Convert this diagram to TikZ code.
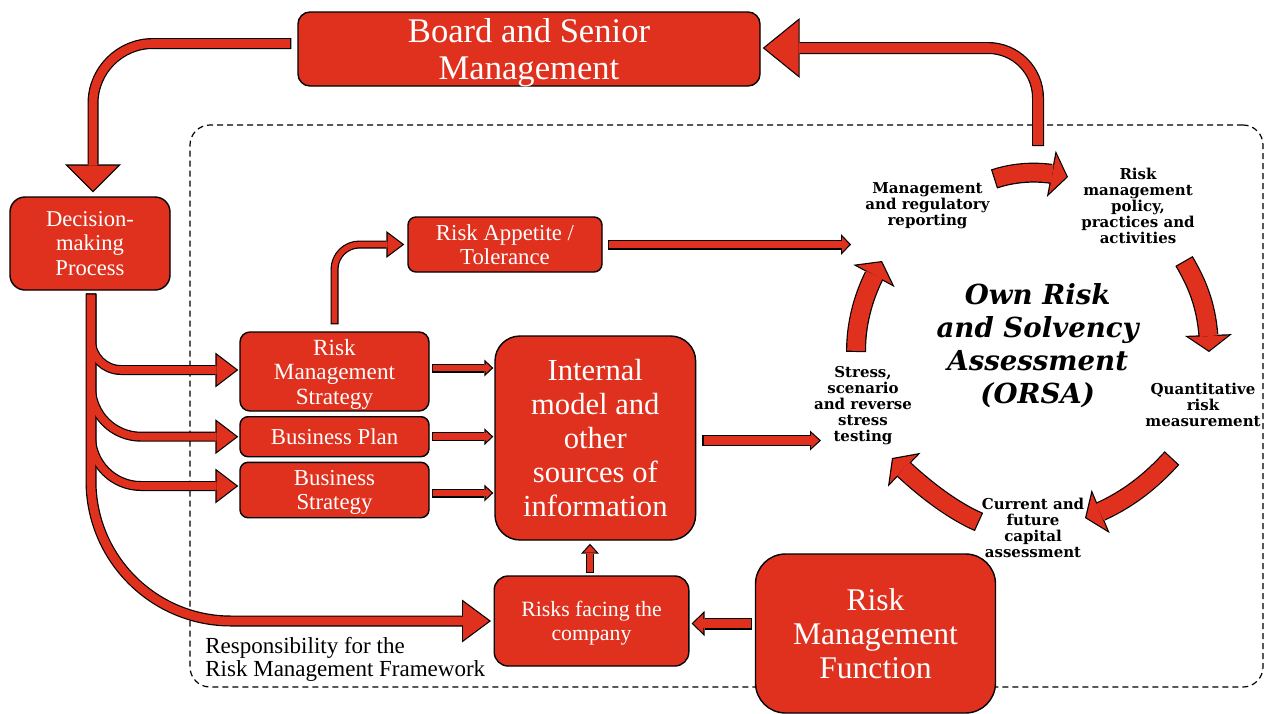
\documentclass[tikz,border=0pt]{standalone}
\usepackage{fontspec}
\setmainfont{Liberation Serif}
\newfontfamily\dvs{DejaVu Serif}
\usetikzlibrary{arrows.meta,bending,calc}
\definecolor{pwcred}{RGB}{224,48,30}

\def\dd{0.6}
\newcommand\fatK[7][]{%
  \pgfmathsetmacro\tW{#2+2*\dd}%
  \draw[#1, black, line width=\tW pt, shorten <=#5pt, shorten >=#6pt, -{Triangle[length=#3pt, width=#4pt, line width=0pt]}] #7;}
\newcommand\fatR[7][]{%
  \pgfmathsetmacro\tS{\dd*sqrt(1+(2*#3/#4)^2)}%
  \pgfmathsetmacro\tL{#3-\dd-\tS}%
  \pgfmathsetmacro\tH{#4*\tL/#3}%
  \pgfmathsetmacro\gs{#5+\dd}%
  \pgfmathsetmacro\ge{#6+\tS}%
  \draw[#1, pwcred, line width=#2pt, shorten <=\gs pt, shorten >=\ge pt, -{Triangle[length=\tL pt, width=\tH pt, line width=0pt]}] #7;}
\newcommand\fat[7][]{\fatK[#1]{#2}{#3}{#4}{#5}{#6}{#7}\fatR[#1]{#2}{#3}{#4}{#5}{#6}{#7}}

\begin{document}
\begin{tikzpicture}[x=0.5pt,y=-0.5pt,
  box/.style={draw=black, line width=0.7pt, fill=pwcred, text=white, align=center, inner sep=0pt},
  lab/.style={align=center, inner sep=0pt, font=\dvs\bfseries\fontsize{7.5}{8}\selectfont},
]
\useasboundingbox (0,0) rectangle (1265,713);

% frame
\node[draw=black, dashed, dash pattern=on 3pt off 2pt, line width=0.6pt, rounded corners=10pt,
      minimum width=536.5pt, minimum height=281pt, inner sep=0pt] (frame) at (726.5,406) {};

% boxes
\node[box, rounded corners=6pt, minimum width=231pt, minimum height=37pt, text depth=0pt,
      font=\fontsize{17.3}{18.5}\selectfont] (board) at (529,49) {Board and Senior\\Management};
\node[box, rounded corners=7.5pt, minimum width=80pt, minimum height=46.5pt,
      font=\fontsize{11.3}{12.25}\selectfont] (dec) at (90,243.5) {Decision-\\making\\Process};
\node[box, rounded corners=4pt, minimum width=97pt, minimum height=27.5pt,
      font=\fontsize{11.4}{12}\selectfont] (app) at (505,244.5) {Risk Appetite /\\Tolerance};
\node[box, rounded corners=5pt, minimum width=94.5pt, minimum height=39.5pt, text depth=0pt,
      font=\fontsize{11.6}{12.25}\selectfont] (rms) at (334.5,371.5) {Risk\\Management\\Strategy};
\node[box, rounded corners=4pt, minimum width=94.5pt, minimum height=20pt,
      font=\fontsize{11.4}{12}\selectfont] (bp) at (334.5,436.7) {Business Plan};
\node[box, rounded corners=4pt, minimum width=94.5pt, minimum height=27.7pt, text depth=0pt,
      font=\fontsize{11.4}{12}\selectfont] (bs) at (334.5,490) {Business\\Strategy};
\node[box, rounded corners=12.5pt, minimum width=100.3pt, minimum height=102pt, text depth=-2pt,
      font=\fontsize{15.3}{17}\selectfont] (im) at (595.3,438) {Internal\\model and\\other\\sources of\\information};
\node[box, rounded corners=7pt, minimum width=97.3pt, minimum height=45pt, text depth=0pt,
      font=\fontsize{10.9}{12}\selectfont] (risks) at (591.5,621) {Risks facing the\\company};
\node[box, rounded corners=15pt, minimum width=120pt, minimum height=79.5pt,
      font=\fontsize{15.8}{17}\selectfont] (rmf) at (875.5,633.5) {Risk\\Management\\Function};

% texts
\node[anchor=west, align=left, inner sep=0pt, font=\fontsize{11.5}{11.5}\selectfont] (resp) at (205,659.5)
  {Responsibility for the\\Risk Management Framework};
\node[lab] (mrr) at (927.5,206) {Management\\and regulatory\\reporting};
\node[lab] (rmp) at (1138,206) {Risk\\management\\policy,\\practices and\\activities};
\node[lab] (qrm) at (1203,405) {Quantitative\\risk\\measurement};
\node[lab] (cfc) at (1033,528) {Current and\\future\\capital\\assessment};
\node[lab] (sst) at (863,406) {Stress,\\scenario\\and reverse\\stress\\testing};
\node[align=center, inner sep=0pt, font=\dvs\bfseries\itshape\fontsize{13.8}{16.5}\selectfont] (orsa) at (1037.7,346)
  {Own Risk\\and Solvency\\Assessment\\(ORSA)};

% coordinates
\coordinate (topS) at (1038,146);
\coordinate (appE) at (851,244.5);
\coordinate (imE) at (821,440.5);
\coordinate (r1) at ($(rms.east)+(0,-3.5)$);
\coordinate (r3) at ($(bs.east)+(0,3)$);
\coordinate (i1) at ($(im.east)+(0,2.5)$);
\coordinate (k1) at ($(risks.north)+(-1.5,0)$);
\coordinate (m1) at ($(rmf.west)+(0,-10)$);
\coordinate (c1s) at (994,179);  \coordinate (c1e) at (1068,177);
\coordinate (c2s) at (1184,261); \coordinate (c2e) at (1209,352);
\coordinate (c3s) at (1172,458); \coordinate (c3e) at (1085,518);
\coordinate (c4s) at (979,522);  \coordinate (c4e) at (892,458);
\coordinate (c5s) at (856,352);  \coordinate (c5e) at (882,261);

% Board -> Decision
\fat[rounded corners=30pt]{4.3}{14}{28}{3}{2}{($(board.west)+(0,-5.5)$) -| ($(dec.north)+(3,0)$)}
% ORSA -> Board
\fat[rounded corners=25pt]{4.8}{18.5}{30}{0}{1}{(topS) |- ($(board.east)+(0,-1)$)}

% decision fan
\fatK[rounded corners=70pt]{4.3}{14.5}{21.5}{1.5}{1.25}{($(dec.south)+(1,0)$) |- (risks.west)}
\fatK[rounded corners=15pt]{3.8}{11.5}{17.5}{1.5}{0.5}{($(dec.south)+(1,0)$) |- ($(rms.west)+(0,-1.5)$)}
\fatK[rounded corners=25pt]{3.8}{11.5}{17.5}{1.5}{0.5}{($(dec.south)+(1,0)$) |- (bp.west)}
\fatK[rounded corners=25pt]{3.8}{11.5}{17.5}{1.5}{0.5}{($(dec.south)+(1,0)$) |- ($(bs.west)+(0,-4)$)}
\fatR[rounded corners=70pt]{4.3}{14.5}{21.5}{1.5}{1.25}{($(dec.south)+(1,0)$) |- (risks.west)}
\fatR[rounded corners=15pt]{3.8}{11.5}{17.5}{1.5}{0.5}{($(dec.south)+(1,0)$) |- ($(rms.west)+(0,-1.5)$)}
\fatR[rounded corners=25pt]{3.8}{11.5}{17.5}{1.5}{0.5}{($(dec.south)+(1,0)$) |- (bp.west)}
\fatR[rounded corners=25pt]{3.8}{11.5}{17.5}{1.5}{0.5}{($(dec.south)+(1,0)$) |- ($(bs.west)+(0,-4)$)}

% RMS -> Risk appetite
\fat[rounded corners=12.5pt]{2.8}{9}{13.5}{3.5}{1.5}{(rms.north) |- (app.west)}
% Risk appetite -> ORSA
\fat{3.8}{5}{10.5}{2.5}{0}{(app.east) -- (appE)}
% inputs to internal model
\fat{3.3}{4.5}{8.5}{1}{0.5}{(r1) -- (r1 -| im.west)}
\fat{3.3}{4.5}{8.5}{1}{0.5}{(bp.east) -- (bp.east -| im.west)}
\fat{3.3}{4.5}{8.5}{1}{0.5}{(r3) -- (r3 -| im.west)}
% internal model -> stress testing
\fat{4.3}{5.5}{10}{3}{0}{(i1) -- (imE)}
% risks -> internal model
\fat{2.8}{5}{9}{1}{1.5}{(k1) -- (k1 |- im.south)}
% RMF -> risks
\fat{4.8}{6.5}{12.5}{1.5}{1}{(m1) -- (m1 -| risks.east)}

% ORSA cycle
\fat{8.8}{8.5}{23.5}{0}{0}{(c1s) .. controls (1015,172) and (1040,170) .. (c1e)}
\fat{8.8}{8.5}{23.5}{0}{0}{(c2s) .. controls (1198,285) and (1209,310) .. (c2e)}
\fat{8.8}{8.5}{23.5}{0}{0}{(c3s) .. controls (1150,482) and (1125,503) .. (c3e)}
\fat{8.8}{8.5}{23.5}{0}{0}{(c4s) .. controls (949,509) and (917,483) .. (c4e)}
\fat{8.8}{8.5}{23.5}{0}{0}{(c5s) .. controls (856,318) and (866,288) .. (c5e)}
\end{tikzpicture}
\end{document}
